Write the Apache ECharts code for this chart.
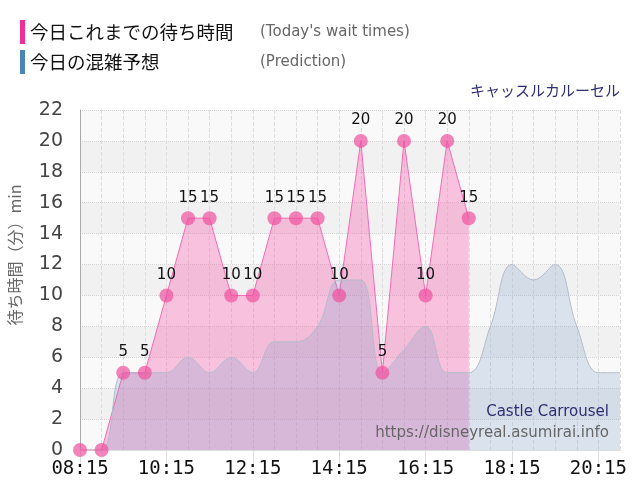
<!DOCTYPE html>
<html>
<head>
<meta charset="utf-8">
<script src="https://cdn.jsdelivr.net/npm/echarts@6/dist/echarts.min.js"></script>
<style>
  html, body { margin: 0; padding: 0; background: #fff; }
  #chart { width: 640px; height: 500px; }
</style>
</head>
<body>
<div id="chart"></div>
<script>
// 30分刻みの時刻
var times = ['08:15', '08:45', '09:15', '09:45', '10:15', '10:45', '11:15', '11:45',
  '12:15', '12:45', '13:15', '13:45', '14:15', '14:45', '15:15', '15:45',
  '16:15', '16:45', '17:15', '17:45', '18:15', '18:45', '19:15', '19:45',
  '20:15', '20:45'];
// 今日これまでの待ち時間
var todayWait = [0, 0, 5, 5, 10, 15, 15, 10, 10, 15, 15, 15, 10, 20, 5, 20, 10, 20, 15,
  null, null, null, null, null, null, null];
// 今日の混雑予想
var prediction = [0, 0, 5, 5, 5, 6, 5, 6, 5, 7, 7, 8, 11, 11, 5, 6.5, 8, 5, 5,
  8, 12, 11, 12, 8, 5, 5];

var seriesNames = ['今日これまでの待ち時間', '今日の混雑予想'];
var seriesEng = ["(Today's wait times)", '(Prediction)'];

var chart = echarts.init(document.getElementById('chart'));

var option = {
  animation: false,
  textStyle: { fontFamily: 'DejaVu Sans' },
  legend: {
    data: seriesNames,
    orient: 'vertical',
    left: 15,
    top: 15,
    icon: 'rect',
    itemWidth: 5,
    itemHeight: 24,
    itemGap: 6,
    selectedMode: false,
    formatter: function (name) {
      var i = seriesNames.indexOf(name);
      return '{a|' + name + '}{b|' + seriesEng[i] + '}';
    },
    textStyle: {
      rich: {
        a: { fontFamily: 'Noto Sans CJK JP', fontSize: 18.5, color: '#111', width: 230 },
        b: { fontFamily: 'DejaVu Sans', fontSize: 15, color: '#666' }
      }
    }
  },
  title: {
    text: 'キャッスルカルーセル',
    right: 15,
    top: 78,
    textStyle: { fontFamily: 'Noto Sans CJK JP', fontSize: 15, fontWeight: 'normal', color: '#2e2e72' }
  },
  graphic: [
    {
      type: 'text', right: 31, top: 405, z: 100,
      style: { text: 'Castle Carrousel', font: '15px "DejaVu Sans"', fill: '#2e2e72' }
    },
    {
      type: 'text', right: 31, top: 426, z: 100,
      style: { text: 'https://disneyreal.asumirai.info', font: '15px "DejaVu Sans"', fill: '#666' }
    }
  ],
  grid: { left: 80, right: 20, top: 110, bottom: 50, outerBoundsMode: 'none' },
  xAxis: {
    type: 'category',
    data: times,
    boundaryGap: false,
    axisLine: { lineStyle: { color: '#ddd' } },
    axisTick: { show: true, interval: 3, length: 14, lineStyle: { color: '#ddd' } },
    axisLabel: {
      interval: 3,
      fontFamily: 'DejaVu Sans Mono',
      fontSize: 19,
      color: '#111',
      margin: 10
    },
    splitLine: { show: true, interval: 0, lineStyle: { color: '#ddd', type: 'dashed' } }
  },
  yAxis: {
    type: 'value',
    min: 0,
    max: 22,
    interval: 2,
    name: '待ち時間（分）min',
    nameLocation: 'middle',
    nameGap: 57,
    nameTextStyle: {
      fontFamily: 'Noto Sans CJK JP', fontSize: 16, color: '#666',
      padding: [0, 0, 0, 50]
    },
    axisLine: { show: true, lineStyle: { color: '#aaa' } },
    axisTick: { show: false },
    axisLabel: { fontSize: 19, color: '#444', margin: 17 },
    splitLine: { lineStyle: { color: '#d4d4d4', type: 'dotted' } },
    splitArea: { show: true, areaStyle: { color: ['#f9f9f9', '#f1f1f1'] } }
  },
  series: [
    {
      name: seriesNames[0],
      type: 'line',
      data: todayWait,
      showSymbol: false,
      itemStyle: { color: '#f0309a' },
      lineStyle: { color: '#f56bb6', width: 1 },
      areaStyle: { color: 'rgba(245,90,170,0.35)', opacity: 1 },
      z: 2
    },
    {
      name: seriesNames[1],
      type: 'line',
      data: prediction,
      smooth: 0.4,
      showSymbol: false,
      itemStyle: { color: '#4a86b8' },
      lineStyle: { color: '#b4bccb', width: 1 },
      areaStyle: { color: 'rgba(116,153,200,0.24)', opacity: 1 },
      z: 3
    },
    {
      name: 'points',
      type: 'line',
      data: todayWait,
      symbol: 'circle',
      symbolSize: 14,
      showAllSymbol: true,
      lineStyle: { opacity: 0 },
      itemStyle: { color: 'rgba(240,80,160,0.7)' },
      label: {
        show: true,
        position: 'top',
        distance: 6,
        fontSize: 15,
        color: '#111',
        formatter: function (p) { return p.value ? p.value : ''; }
      },
      z: 4
    }
  ]
};

chart.setOption(option);
</script>
</body>
</html>
